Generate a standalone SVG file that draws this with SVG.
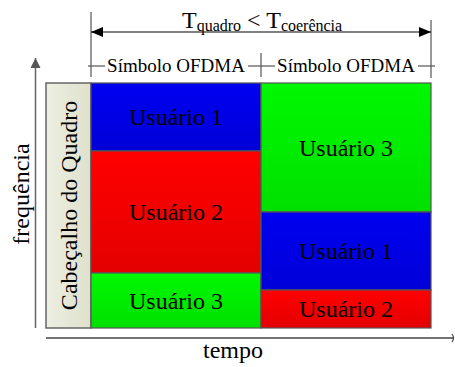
<svg xmlns="http://www.w3.org/2000/svg" width="455" height="367" viewBox="0 0 455 367">
<defs>
<linearGradient id="gBlue" x1="0" y1="0" x2="0" y2="1"><stop offset="0" stop-color="#0000f0"/><stop offset="1" stop-color="#0000d8"/></linearGradient>
<linearGradient id="gRed" x1="0" y1="0" x2="0" y2="1"><stop offset="0" stop-color="#ff0000"/><stop offset="1" stop-color="#e40000"/></linearGradient>
<linearGradient id="gGreen" x1="0" y1="0" x2="0" y2="1"><stop offset="0" stop-color="#00f800"/><stop offset="1" stop-color="#00e000"/></linearGradient>
<linearGradient id="gHead" x1="0" y1="0" x2="1" y2="0"><stop offset="0" stop-color="#ecefe2"/><stop offset="1" stop-color="#dfe1cc"/></linearGradient>
<marker id="ah" viewBox="0 0 12 10" refX="12" refY="5" markerWidth="12" markerHeight="10" markerUnits="userSpaceOnUse" orient="auto-start-reverse"><path d="M0,0 L12,5 L0,10 Z" fill="#000"/></marker>
<marker id="ahg" viewBox="0 0 10 10" refX="10" refY="5" markerWidth="10" markerHeight="10" markerUnits="userSpaceOnUse" orient="auto"><path d="M0,0 L10,5 L0,10 Z" fill="#555"/></marker>
</defs>
<style>
text{font-family:"Liberation Serif","Times New Roman",serif;fill:#000}
.blk{stroke:#555;stroke-width:1.2}
.lbl{font-size:24px;text-anchor:middle}
.sym{font-size:19px;text-anchor:middle}
.dim{stroke:#555;stroke-width:1.2;fill:none}
.axis{stroke:#666;stroke-width:1.5;fill:none}
</style>
<g id="connectors">
<line class="dim" x1="91" y1="12" x2="91" y2="77"/>
<line class="dim" x1="431" y1="20" x2="431" y2="78"/>
<line class="dim" x1="261" y1="53" x2="261" y2="77"/>
<line x1="91" y1="32" x2="431" y2="32" stroke="#000" stroke-width="1.2" marker-start="url(#ah)" marker-end="url(#ah)"/>
<line class="dim" x1="88" y1="66" x2="105" y2="66"/>
<line class="dim" x1="248" y1="66" x2="275" y2="66"/>
<line class="dim" x1="418" y1="66" x2="435" y2="66"/>
<line class="axis" x1="35.5" y1="328" x2="35.5" y2="58" marker-end="url(#ahg)"/>
<line x1="46" y1="338" x2="453" y2="338" stroke="#444" stroke-width="1.5"/>
<path d="M452,334 Q455,338 452,342" fill="none" stroke="#444" stroke-width="1.2"/>
</g>
<g id="title"><text x="182" y="28" font-size="24">T<tspan font-size="16" dy="3">quadro</tspan><tspan dy="-3"> &lt; T</tspan><tspan font-size="16" dy="3">coerência</tspan></text></g>
<g id="sym1"><text class="sym" x="176" y="72">Símbolo OFDMA</text></g>
<g id="sym2"><text class="sym" x="346" y="72">Símbolo OFDMA</text></g>
<g id="header"><rect x="46" y="83" width="45" height="245" fill="url(#gHead)" stroke="#666" stroke-width="1.5"/><text class="lbl" transform="translate(77,205.5) rotate(-90)">Cabeçalho do Quadro</text></g>
<g id="c1u1"><rect class="blk" x="91" y="83" width="170" height="68" fill="url(#gBlue)"/><text class="lbl" x="176" y="125">Usuário 1</text></g>
<g id="c1u2"><rect class="blk" x="91" y="151" width="170" height="122" fill="url(#gRed)"/><text class="lbl" x="176" y="220">Usuário 2</text></g>
<g id="c1u3"><rect class="blk" x="91" y="273" width="170" height="55" fill="url(#gGreen)"/><text class="lbl" x="176" y="308.5">Usuário 3</text></g>
<g id="c2u3"><rect class="blk" x="261" y="83" width="170" height="129" fill="url(#gGreen)"/><text class="lbl" x="346" y="155.5">Usuário 3</text></g>
<g id="c2u1"><rect class="blk" x="261" y="212" width="170" height="78" fill="url(#gBlue)"/><text class="lbl" x="346" y="259">Usuário 1</text></g>
<g id="c2u2"><rect class="blk" x="261" y="290" width="170" height="38" fill="url(#gRed)"/><text class="lbl" x="346" y="317">Usuário 2</text></g>
<g id="freq"><text class="lbl" transform="translate(29,194) rotate(-90)">frequência</text></g>
<g id="tempo"><text class="lbl" x="233" y="358">tempo</text></g>
</svg>
